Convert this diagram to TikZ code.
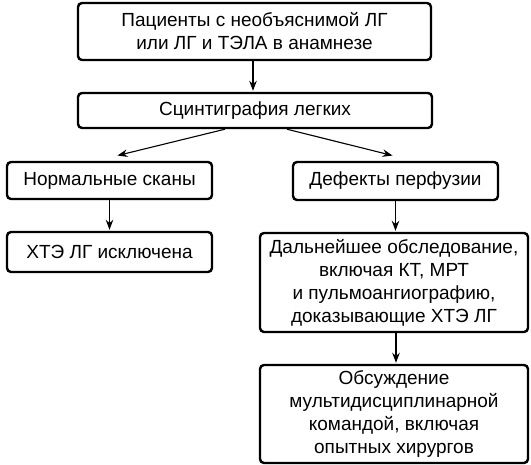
\documentclass[tikz,border=0pt]{standalone}
\usepackage{fontspec}
\setmainfont{Liberation Sans}
\usetikzlibrary{arrows.meta}
\begin{document}
\begin{tikzpicture}[x=1pt, y=-1pt,
    kasten/.style={draw, line width=2.4pt, rounded corners=4pt, align=center,
        inner sep=0pt, font=\fontsize{19}{23}\selectfont},
    pfeil/.style={-{Stealth[length=10pt, width=7.5pt]}, line width=1.1pt, shorten >=1pt}]
    \useasboundingbox (0,0) rectangle (531,465);

    %Kaesten oben
    \node[kasten, minimum width=353pt, minimum height=57pt] (pat) at (254.5,31.5)
        {Пациенты с необъяснимой ЛГ\\или ЛГ и ТЭЛА в анамнезе};
    \node[kasten, minimum width=354pt, minimum height=35pt] (szint) at (255,110.5)
        {Сцинтиграфия легких};

    %linker Zweig
    \node[kasten, minimum width=205pt, minimum height=37pt] (norm) at (109.5,180.5)
        {Нормальные сканы};
    \node[kasten, minimum width=205pt, minimum height=40pt] (ausg) at (109.5,252)
        {ХТЭ ЛГ исключена};

    %rechter Zweig
    \node[kasten, minimum width=205pt, minimum height=38pt] (def) at (395.5,181)
        {Дефекты перфузии};
    \node[kasten, minimum width=268pt, minimum height=99pt] (weiter) at (394,282.5)
        {Дальнейшее обследование,\\включая КТ, МРТ\\и пульмоангиографию,\\доказывающие ХТЭ ЛГ};
    \node[kasten, minimum width=268pt, minimum height=98pt] (team) at (394,414)
        {Обсуждение\\мультидисциплинарной\\командой, включая\\опытных хирургов};

    %Pfeile
    \draw[pfeil] ([xshift=-1.5pt]pat.south) -- ([xshift=-2pt]szint.north);
    \draw[pfeil] ([xshift=-30pt]szint.south) -- ([xshift=7pt, yshift=5pt]norm.north);
    \draw[pfeil] ([xshift=32pt]szint.south) -- ([xshift=-2pt, yshift=5pt]def.north);
    \draw[pfeil] (norm.south) -- (ausg.north);
    \draw[pfeil] (def.south) -- (def.south |- weiter.north);
    \draw[pfeil] ([xshift=2pt]weiter.south) -- ([xshift=2pt]team.north);
\end{tikzpicture}
\end{document}
